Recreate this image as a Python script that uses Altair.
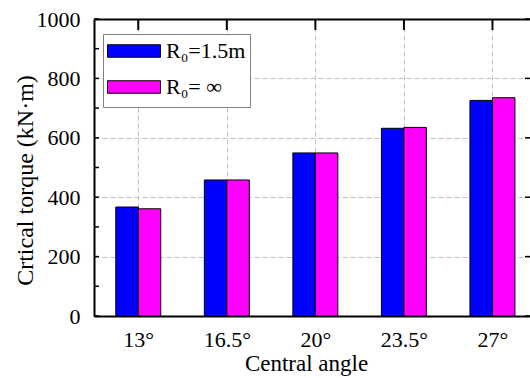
import json
import altair as alt
import pandas as pd

# ---- data ----
angles = ["13°", "16.5°", "20°", "23.5°", "27°"]
series = ["R₀=1.5m", "R₀= ∞"]
torque_r15 = [367, 458, 549, 632, 726]
torque_inf = [361, 458, 549, 635, 735]
y_major = [0, 200, 400, 600, 800, 1000]
y_all = [0, 100, 200, 300, 400, 500, 600, 700, 800, 900, 1000]
colors = ["#0000FF", "#FF00FF"]

rows = []
for i, a in enumerate(angles):
    rows.append({"idx": i + 1, "angle": a, "series": series[0], "k": 0, "value": torque_r15[i]})
    rows.append({"idx": i + 1, "angle": a, "series": series[1], "k": 1, "value": torque_inf[i]})
df = pd.DataFrame(rows)
cat_df = pd.DataFrame({"idx": list(range(1, len(angles) + 1))})
yall_df = pd.DataFrame({"v": y_all})
ymaj_df = pd.DataFrame({"v": y_major})

BW = 0.254
W, H = 436, 297
FONT = "Liberation Serif"
xscale = alt.Scale(domain=[0.5, 5.424], nice=False, zero=False)
yscale = alt.Scale(domain=[0, 1000], nice=False)
label_expr = "%s[datum.value - 1]" % json.dumps(angles, ensure_ascii=False)

bars = alt.Chart(df).transform_calculate(
    x0=f"datum.idx - {BW} + datum.k * {BW}",
    x1=f"datum.idx + datum.k * {BW}",
).mark_bar(stroke="black", strokeWidth=1).encode(
    x=alt.X("x0:Q", scale=xscale, title="Central angle",
            axis=alt.Axis(orient="bottom", values=[1, 2, 3, 4, 5], labelExpr=label_expr,
                          ticks=False, labelPadding=13, labelFont=FONT, labelFontSize=22,
                          labelColor="black", grid=True, gridDash=[5, 3], gridColor="#c0c0c0",
                          domainColor="black", domainWidth=2, titleFont=FONT, titleFontSize=23,
                          titleFontWeight="normal", titleColor="black",
                          titleBaseline="alphabetic", titleY=54, titleX=212,
                          titleAlign="center")),
    x2="x1:Q",
    y=alt.Y("value:Q", scale=yscale, stack=None, title="Crtical torque (kN·m)",
            axis=alt.Axis(orient="left", values=y_major, format="d", ticks=False,
                          labelPadding=14, labelFont=FONT, labelFontSize=22,
                          labelColor="black", grid=True, gridDash=[5, 3],
                          gridColor="#c0c0c0", domainColor="black", domainWidth=2,
                          titleFont=FONT, titleFontSize=24, titleFontWeight="normal",
                          titleColor="black", titleBaseline="alphabetic", titleAngle=-90,
                          titleX=-62, titleY=161, titleAlign="center")),
    y2=alt.Y2(datum=0),
    color=alt.Color("series:N", scale=alt.Scale(domain=series, range=colors),
                    legend=alt.Legend(title=" ", titleOrient="bottom", titleFontSize=5,
                                      titlePadding=0,
                                      orient="none", legendX=9, legendY=15,
                                      symbolType="M-2.12,-0.5H2.12V0.5H-2.12Z", symbolSize=625,
                                      symbolOffset=14,
                                      symbolStrokeColor="black", symbolStrokeWidth=1,
                                      labelFont=FONT, labelFontSize=22, labelColor="black",
                                      strokeColor="#808080", fillColor="white", padding=4,
                                      rowPadding=12, labelOffset=19, labelLimit=0)),
)

top_ticks = alt.Chart(cat_df).mark_rule(color="black", strokeWidth=2).encode(
    x=alt.X("idx:Q", scale=xscale,
            axis=alt.Axis(orient="top", labels=False, ticks=False, grid=False, title=None,
                          domainColor="black", domainWidth=2)),
    y=alt.value(0), y2=alt.value(11),
)

left_ticks = alt.Chart(yall_df).mark_rule(color="black", strokeWidth=1.5).encode(
    y=alt.Y("v:Q", scale=yscale, axis=None),
    x=alt.value(0), x2=alt.value(5),
)

right_ticks = alt.Chart(ymaj_df).mark_rule(color="black", strokeWidth=1.5).encode(
    y=alt.Y("v:Q", scale=yscale, axis=None),
    x=alt.value(W - 5), x2=alt.value(W),
)

chart = alt.layer(bars, top_ticks, left_ticks, right_ticks).resolve_axis(
    x="independent", y="independent"
).properties(
    width=W, height=H,
    autosize=alt.AutoSizeParams(type="none"),
    padding={"left": 94, "top": 19, "right": 0, "bottom": 62},
    background="white",
).configure_view(stroke=None)

chart.save("out.html", embed_options={"renderer": "svg", "actions": False})
